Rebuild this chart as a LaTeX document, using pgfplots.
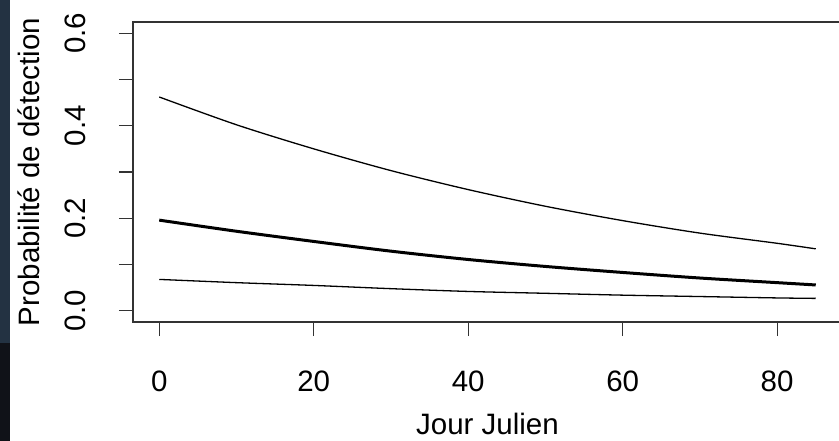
\documentclass[border=0pt]{standalone}
\usepackage{pgfplots}
\pgfplotsset{compat=1.18}
\usepackage{fontspec}
\setmainfont{Liberation Sans}
\pgfplotstableread{
x upper mid lower
0  0.462 0.196 0.068
10 0.402 0.172 0.061
20 0.350 0.150 0.055
30 0.303 0.129 0.048
40 0.262 0.111 0.042
50 0.226 0.096 0.038
60 0.195 0.083 0.034
70 0.168 0.071 0.031
80 0.146 0.061 0.028
85 0.134 0.056 0.027
}\datatable
\begin{document}
\begin{tikzpicture}
\begin{axis}[
  anchor=south west,
  scale only axis, width=709bp, height=300bp,
  xmin=-3.4, xmax=88.4, ymin=-0.024, ymax=0.624,
  axis line style={line width=1.3bp, black!80},
  tick pos=left, tick align=outside, major tick length=14bp,
  every tick/.style={line width=1.1bp, black!80},
  xtick={0,20,40,60,80},
  xticklabels={0,20,40,60,80},
  ytick={0,0.1,0.2,0.3,0.4,0.5,0.6},
  yticklabels={0.0,,0.2,,0.4,,0.6},
  /pgf/number format/assume math mode=true,
  tick label style={font=\fontsize{29.5bp}{32bp}\selectfont, inner sep=0pt},
  xticklabel style={anchor=base, yshift=-55bp},
  yticklabel style={xshift=-33bp, rotate=90, anchor=base},
  every axis x label/.style={at={(rel axis cs:0.5,0)}, anchor=base, yshift=-112bp, font=\fontsize{29.5bp}{32bp}\selectfont, inner sep=0pt},
  every axis y label/.style={at={(rel axis cs:0,0.5)}, xshift=-93bp, rotate=90, anchor=base, font=\fontsize{29.5bp}{32bp}\selectfont, inner sep=0pt},
  xlabel={Jour Julien},
  ylabel={Probabilité de détection},
  clip=true,
]
\addplot[black, line width=1.3bp, smooth, tension=0.5] table[x=x, y=upper] {\datatable};
\addplot[black, line width=3bp, smooth, tension=0.5] table[x=x, y=mid] {\datatable};
\addplot[black, line width=1.3bp, smooth, tension=0.5] table[x=x, y=lower] {\datatable};
\end{axis}
\fill[fill={rgb,255:red,35;green,50;blue,66}] (-133bp,-21bp) rectangle (-123bp,322bp);
\fill[fill={rgb,255:red,16;green,18;blue,24}] (-133bp,-119bp) rectangle (-123bp,-21bp);
\pgfresetboundingbox
\path[use as bounding box] (-133bp,-119bp) rectangle (706bp,322bp);
\end{tikzpicture}
\end{document}
